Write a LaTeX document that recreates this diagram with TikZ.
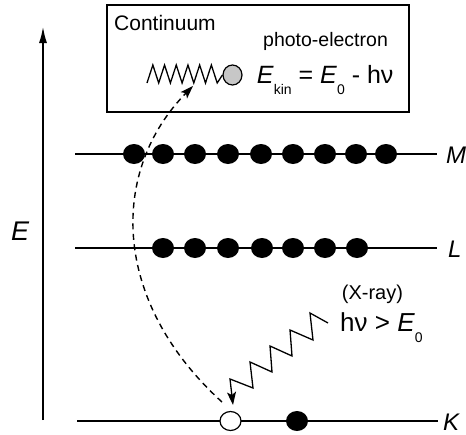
\documentclass[tikz,border=0pt]{standalone}
\usepackage{fontspec}
\setmainfont{Liberation Sans}
\usetikzlibrary{arrows.meta,shapes.geometric}
\newcommand{\fs}[1]{\fontsize{#1pt}{#1pt}\selectfont}
\newcommand{\subtxt}[1]{\raisebox{-11pt}{\fs{14}#1}}
\begin{document}
\begin{tikzpicture}[x=1pt,y=-1pt,
  level/.style={line width=1.4pt},
  edot/.style={ellipse,fill=black,minimum width=22pt,minimum height=20pt,inner sep=0pt},
  hole/.style={ellipse,draw,line width=1.2pt,fill=white,minimum width=21pt,minimum height=19pt,inner sep=0pt},
  pel/.style={ellipse,draw,line width=1.2pt,fill=black!22,minimum width=19pt,minimum height=20pt,inner sep=0pt},
  txt/.style={anchor=base west,inner sep=0pt},
  lvllbl/.style={anchor=base west,inner sep=0pt,font=\fs{24}\itshape},
  wave/.style={line width=1.3pt,line join=miter},
  dasharrow/.style={line width=1.4pt,dash pattern=on 6pt off 4.5pt,-{Stealth[length=13pt,width=9pt,inset=3pt]}},
  axisarrow/.style={line width=1.4pt,-{Latex[length=16pt,width=8pt]}}
]
\useasboundingbox (0,0) rectangle (466,434);

% energy axis
\coordinate (axb) at (43,420);
\coordinate (axt) at (43,27);
\draw[axisarrow] (axb) -- (axt);
\node[txt,font=\fs{27}\itshape] (Elbl) at (11,240) {E};

% continuum box
\node[draw,line width=1.3pt,minimum width=302pt,minimum height=107pt,inner sep=0pt] (box) at (258,58.5) {};
\node[txt,font=\fs{21}] (cont) at (114,30) {Continuum};
\node[txt,font=\fs{19.5}] (pe) at (263,46.7) {photo-electron};
\node[txt,font=\fs{25}] (ekin) at (256.7,83.3) {\textit{E}\subtxt{kin} = \textit{E}\subtxt{0} - hν};
\node[pel] (pel) at (232.5,75) {};
\draw[wave] (147,83) -- (152.85,65) -- (158.7,83) -- (164.55,65) -- (170.4,83) -- (176.25,65)
  -- (182.1,83) -- (187.95,65) -- (193.8,83) -- (199.65,65) -- (205.5,83) -- (211.35,65)
  -- (217.2,83) -- (pel.west);

% levels
\coordinate (Ml) at (75,154); \coordinate (Mr) at (437,154);
\coordinate (Ll) at (75,248); \coordinate (Lr) at (437,248);
\coordinate (Kl) at (77,421); \coordinate (Kr) at (438,421);
\draw[level] (Ml) -- (Mr);
\draw[level] (Ll) -- (Lr);
\draw[level] (Kl) -- (Kr);
\node[lvllbl] (Mlbl) at (446,163) {M};
\node[lvllbl] (Llbl) at (448,257) {L};
\node[lvllbl] (Klbl) at (443,430) {K};

% electrons on M
\foreach \x [count=\i] in {134,163,195,228,261,293,325,356,386}
  \node[edot] (m\i) at (\x,154) {};
% electrons on L
\foreach \x [count=\i] in {163,195,228,262,293,325,357}
  \node[edot] (l\i) at (\x,248) {};
% K shell
\node[hole] (khole) at (230.5,421) {};
\node[edot] (k2) at (297,421) {};

% ejection path
\coordinate (dstart) at (222,402);
\coordinate (dend) at (193,86);
\draw[dasharrow] (dstart) .. controls (110,300) and (110,170) .. (dend);

% X-ray photon
\coordinate (xs) at (328,323);
\coordinate (xtip) at (233,405);
\draw[wave,-{Stealth[length=13pt,width=9pt,inset=3pt]}] (xs) -- (310,313) -- (313,340) -- (290,330) -- (292,356)
  -- (270,346) -- (272,372) -- (250,362) -- (253,388) -- (230,379) -- (xtip);
\node[txt,font=\fs{20}] (xray) at (341.7,299) {(X-ray)};
\node[txt,font=\fs{26}] (hnu) at (340,331.7) {hν > \textit{E}\subtxt{0}};
\end{tikzpicture}
\end{document}
